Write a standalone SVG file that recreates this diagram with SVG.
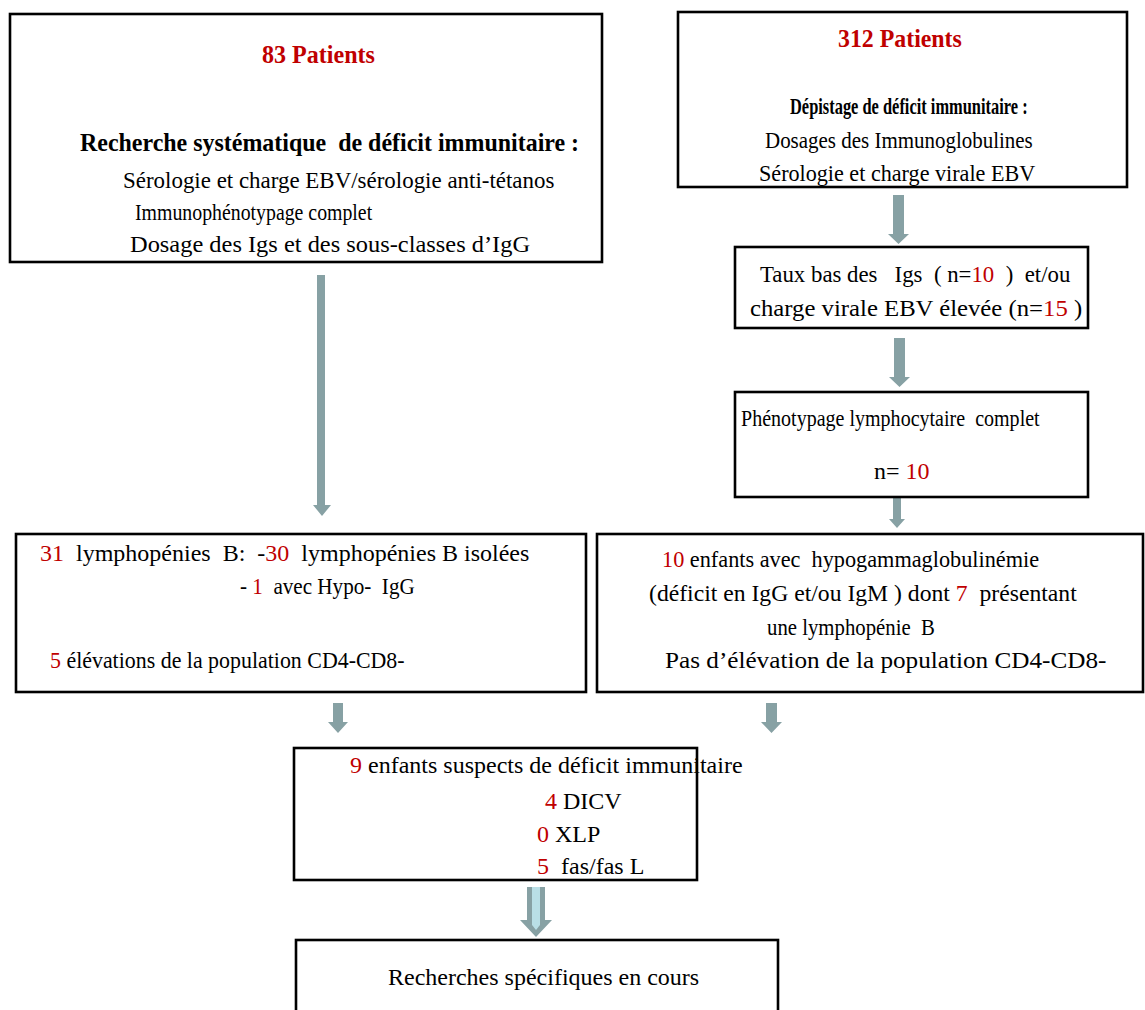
<svg xmlns="http://www.w3.org/2000/svg" width="1145" height="1010" viewBox="0 0 1145 1010">
<style>
.box{fill:#fff;stroke:#000;stroke-width:2.6}
text{font-family:"Liberation Serif","Times New Roman",serif;font-size:24px;fill:#000;white-space:pre}
.b{font-weight:bold}
.r{fill:#c00000}
.arr{fill:#87a1a4}
.in{fill:#c3c3c3}
.stripe{fill:#b9dfe6}
</style>
<rect width="1145" height="1010" fill="#fff"/>
<g id="connectors">
  <polygon class="arr" points="315,80 343,80 343,92 360,92 330,112 300,92 315,92"/>
  <polygon class="in" points="319,83 339,83 339,95 351,95 330,108 309,95 319,95"/>
  <polygon class="arr" points="885,52 913,52 913,63 927,63 901,75 875,63 885,63"/>
  <polygon class="in" points="889,54 909,54 909,65 919,65 901,72 883,65 889,65"/>
  <polygon class="arr" points="317,275 325,275 325,505 331,505 322,516 313,505 317,505"/>
  <polygon class="arr" points="893,195 904,195 904,234 909,234 898.5,244 888,234 893,234"/>
  <polygon class="arr" points="894,338 905,338 905,377 910,377 899.5,387 889,377 894,377"/>
  <polygon class="arr" points="893,498 901,498 901,519 905,519 897,528 889,519 893,519"/>
  <polygon class="arr" points="333,703 343,703 343,722 348,722 338,733 328,722 333,722"/>
  <polygon class="arr" points="766,703 777,703 777,722 782,722 771.5,733 761,722 766,722"/>
  <polygon class="arr" points="527,887 545,887 545,920 552,920 536,937 520,920 527,920"/>
  <polygon class="stripe" points="532,887 540,887 540,925 536,930 532,925"/>
</g>
<g id="n1">
  <rect class="box" x="10" y="14" width="592" height="248"/>
  <text class="b r" transform="translate(262,63) scale(0.963,1)" style="font-size:25px">83 Patients</text>
  <text class="b" transform="translate(80,151) scale(0.958,1)" style="font-size:25px">Recherche systématique  de déficit immunitaire :</text>
  <text transform="translate(123,188) scale(0.956,1)">Sérologie et charge EBV/sérologie anti-tétanos</text>
  <text transform="translate(135,220) scale(0.826,1)">Immunophénotypage complet</text>
  <text transform="translate(130,252) scale(1.018,1)">Dosage des Igs et des sous-classes d’IgG</text>
</g>
<g id="n2">
  <rect class="box" x="678" y="12" width="449" height="175"/>
  <text class="b r" transform="translate(838,47) scale(0.954,1)" style="font-size:25px">312 Patients</text>
  <text class="b" transform="translate(790,114) scale(0.714,1)" style="font-size:23px">Dépistage de déficit immunitaire :</text>
  <text transform="translate(765,148) scale(0.874,1)">Dosages des Immunoglobulines</text>
  <text transform="translate(759,181) scale(0.923,1)">Sérologie et charge virale EBV</text>
</g>
<g id="n3">
  <rect class="box" x="735" y="247" width="353" height="81"/>
  <text transform="translate(760,282) scale(0.951,1)">Taux bas des   Igs  ( n=<tspan class="r">10</tspan>  )  et/ou</text>
  <text transform="translate(750,316) scale(1.03,1)">charge virale EBV élevée (n=<tspan class="r">15</tspan> )</text>
</g>
<g id="n4">
  <rect class="box" x="735" y="392" width="353" height="105"/>
  <text transform="translate(741,426) scale(0.835,1)">Phénotypage lymphocytaire  complet</text>
  <text x="874" y="479">n= <tspan class="r">10</tspan></text>
</g>
<g id="n5">
  <rect class="box" x="16" y="534" width="570" height="158"/>
  <text x="40" y="561"><tspan class="r">31</tspan>  lymphopénies  B:  -<tspan class="r">30</tspan>  lymphopénies B isolées</text>
  <text transform="translate(240,594) scale(0.88,1)">- <tspan class="r">1</tspan>  avec Hypo-  IgG</text>
  <text transform="translate(50,668) scale(0.913,1)"><tspan class="r">5</tspan> élévations de la population CD4-CD8-</text>
</g>
<g id="n6">
  <rect class="box" x="597" y="534" width="546" height="158"/>
  <text transform="translate(662,567) scale(0.928,1)"><tspan class="r">10</tspan> enfants avec  hypogammaglobulinémie</text>
  <text transform="translate(649,601) scale(0.986,1)">(déficit en IgG et/ou IgM ) dont <tspan class="r">7</tspan>  présentant</text>
  <text transform="translate(767,635) scale(0.866,1)">une lymphopénie  B</text>
  <text transform="translate(665,668) scale(1.05,1)">Pas d’élévation de la population CD4-CD8-</text>
</g>
<g id="n7">
  <rect class="box" x="294" y="748" width="403" height="132"/>
  <text x="350" y="773"><tspan class="r">9</tspan> enfants suspects de déficit immunitaire</text>
  <text x="545" y="809"><tspan class="r">4</tspan> DICV</text>
  <text x="537" y="842"><tspan class="r">0</tspan> XLP</text>
  <text x="537" y="874"><tspan class="r">5</tspan>  fas/fas L</text>
</g>
<g id="n8">
  <rect class="box" x="296" y="940" width="482" height="80"/>
  <text x="388" y="985">Recherches spécifiques en cours</text>
</g>
</svg>
